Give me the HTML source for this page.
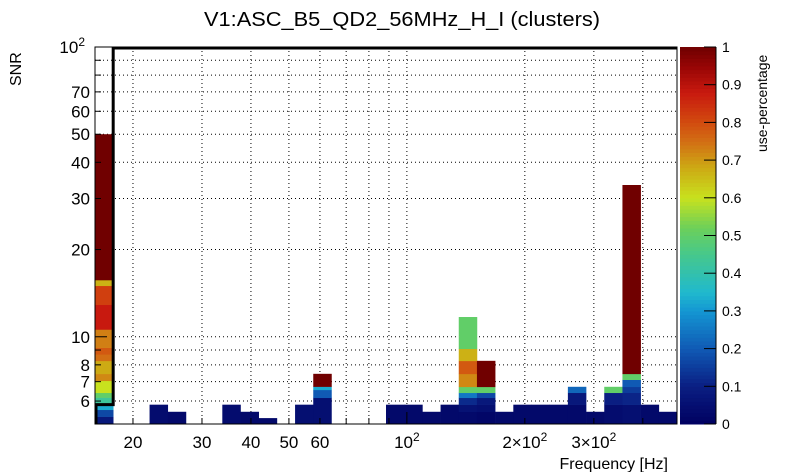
<!DOCTYPE html>
<html><head><meta charset="utf-8"><style>
html,body{margin:0;padding:0;background:#fff;}
svg{display:block;font-family:"Liberation Sans",Arial,sans-serif;}
</style></head><body>
<svg id="chart" width="805" height="472" viewBox="0 0 805 472" xmlns="http://www.w3.org/2000/svg">
<rect width="805" height="472" fill="#fff"/>
<text x="402" y="26" font-size="20" text-anchor="middle" textLength="396" lengthAdjust="spacingAndGlyphs">V1:ASC_B5_QD2_56MHz_H_I (clusters)</text>
<text transform="translate(21,86) rotate(-90)" font-size="16">SNR</text>
<text x="668" y="469" font-size="16" text-anchor="end">Frequency [Hz]</text>
<text transform="translate(767,152) rotate(-90)" font-size="14">use-percentage</text>
<g id="grid"></g>
<g id="cells"></g>
<g id="axes"></g>
<g id="colorbar"></g>
</svg>
<script>
// ---- data ----
const xBinCount = 32;
const xMin = 16.0, xMax = 489;
const yMin = 5, yMax = 100;
// each column: bin index, SNR segment tops, use-percentage values
const colBins = [0,3,4,7,8,9,11,12,16,17,18,19,20,21,22,23,24,25,26,27,28,29,30,31];
const colTops = [
 [5.30,5.60,5.87,6.17,6.41,7.05,7.45,8.26,8.7,9.17,10.6,12.9,15.0,15.7,50],
 [5.83],[5.51],[5.83],[5.51],[5.24],[5.83],
 [6.16,6.56,6.73,7.45],
 [5.83],[5.83],[5.51],[5.83],
 [5.51,5.83,6.16,6.41,6.72,7.45,8.26,9.09,11.7],
 [5.51,5.83,6.16,6.41,6.72,8.26],
 [5.51],[5.83],[5.83],[5.83],
 [5.83,6.41,6.72],
 [5.51],
 [5.83,6.41,6.72],
 [5.83,6.41,6.72,7.11,7.45,33.4],
 [5.83],[5.51]
];
const colVals = [
 [0.08,0.17,0.33,0.43,0.5,0.6,0.72,0.68,0.75,0.78,0.73,0.88,0.82,0.67,1.0],
 [0.04],[0.03],[0.04],[0.03],[0.03],[0.05],
 [0.05,0.2,0.33,1.0],
 [0.03],[0.03],[0.03],[0.03],
 [0.03,0.06,0.12,0.25,0.5,0.72,0.78,0.67,0.5],
 [0.02,0.05,0.08,0.17,0.5,1.0],
 [0.03],[0.03],[0.03],[0.03],
 [0.03,0.08,0.22],
 [0.03],
 [0.04,0.1,0.5],
 [0.05,0.11,0.15,0.2,0.5,1.0],
 [0.03],[0.03]
];
// black step line: SNR level per x bin (first bin, then the rest)
const stepLevels = [5.83, 100];
const yTickVals = [6,7,8,9,10,20,30,40,50,60,70,80,90,100];
const yTickLabels = ["6","7","8","","10","20","30","40","50","60","70","","",""];
const xTickVals = [20,30,40,50,60,70,80,90,100,200,300,400];
const xTickLabels = ["20","30","40","50","60","","","","","","",""];
const zTicks = [0,0.1,0.2,0.3,0.4,0.5,0.6,0.7,0.8,0.9,1];

// ---- geometry ----
const L=95,R=677,T=47,B=424;
const NS="http://www.w3.org/2000/svg";
const xs=f=>L+(R-L)*(Math.log10(f)-Math.log10(xMin))/(Math.log10(xMax)-Math.log10(xMin));
const ys=s=>B-(B-T)*(Math.log10(s)-Math.log10(yMin))/(Math.log10(yMax)-Math.log10(yMin));
const bw=(R-L)/xBinCount;
const stops=[[0,[0,0,96]],[0.1,[10,30,130]],[0.2,[16,90,180]],[0.3,[20,150,210]],[0.35,[32,185,205]],[0.45,[70,200,140]],[0.52,[108,208,90]],[0.6,[200,225,30]],[0.68,[205,170,20]],[0.75,[210,110,20]],[0.8,[210,75,15]],[0.88,[200,25,15]],[0.95,[150,5,5]],[1,[112,0,0]]];
function col(v){for(let i=1;i<stops.length;i++){if(v<=stops[i][0]){const a=stops[i-1],b=stops[i],t=(v-a[0])/(b[0]-a[0]);return 'rgb('+a[1].map((c,k)=>Math.round(c+(b[1][k]-c)*t)).join(',')+')';}}return 'rgb(112,0,0)';}
function mk(tag,attrs,parent){const e=document.createElementNS(NS,tag);for(const k in attrs)e.setAttribute(k,attrs[k]);parent.appendChild(e);return e;}
const grid=document.getElementById('grid'),cells=document.getElementById('cells'),axes=document.getElementById('axes'),cb=document.getElementById('colorbar');

yTickVals.forEach((v,i)=>{const y=ys(v);
 const g=mk('line',{x1:L,x2:R,y1:y,y2:y,stroke:'#000','stroke-width':1,'stroke-dasharray':'1 3'},grid);
 
 
 const t=mk('line',{x1:L,x2:L+(v===10||v===100?12:6),y1:y,y2:y,stroke:'#000'},axes);
 
 
 if(yTickLabels[i]){const tx=mk('text',{x:L-5,y:y+6,'font-size':17,'text-anchor':'end'},axes);tx.textContent=yTickLabels[i];
  
  }
});
const ylab=mk('text',{x:L-10,y:T+6,'font-size':17,'text-anchor':'end'},axes);ylab.innerHTML='10<tspan dy="-7" font-size="12">2</tspan>';



xTickVals.forEach((v,i)=>{const x=xs(v);
 const g=mk('line',{x1:x,x2:x,y1:T,y2:B,stroke:'#000','stroke-width':1,'stroke-dasharray':'1 3'},grid);
 
 
 const t=mk('line',{x1:x,x2:x,y1:B,y2:B-(v===100?12:6),stroke:'#000'},axes);
 
 
 if(xTickLabels[i]){const tx=mk('text',{x:x,y:448,'font-size':17,'text-anchor':'middle'},axes);tx.textContent=xTickLabels[i];
  
  }
});
[[100,'10<tspan dy="-7" font-size="12">2</tspan>'],[200,'2×10<tspan dy="-7" font-size="12">2</tspan>'],[300,'3×10<tspan dy="-7" font-size="12">2</tspan>']].forEach(p=>{
 const tx=mk('text',{x:xs(p[0]),y:448,'font-size':17,'text-anchor':'middle'},axes);tx.innerHTML=p[1];
 
 });

colBins.forEach((bin,ci)=>{let prev=yMin;const x0=L+bin*bw;
 colTops[ci].forEach((top,k)=>{const y1=ys(top),y0=ys(prev);
  const r=mk('rect',{x:x0,y:y1,width:bw+0.3,height:y0-y1+0.3,fill:col(colVals[ci][k])},cells);
  
  
  prev=top;});
});

const sy0=ys(stepLevels[0]),sy1=ys(stepLevels[1]);
const step=mk('path',{d:`M${L+1},${B} L${L+1},${sy0} L${L+bw},${sy0} L${L+bw},${sy1+1} L${R},${sy1+1}`,fill:'none',stroke:'#000','stroke-width':3},axes);


const fr=mk('rect',{x:L,y:T,width:R-L,height:B-T,fill:'none',stroke:'#000','stroke-width':1},axes);



// colorbar
const cL=680,cR=716,N=100;
for(let i=0;i<N;i++){const v=(i+0.5)/N,y=B-(i+1)*(B-T)/N;
 const r=mk('rect',{x:cL,y:y,width:cR-cL,height:(B-T)/N+0.5,fill:col(v)},cb);
 
 }
zTicks.forEach(v=>{const y=B-v*(B-T);
 const t=mk('line',{x1:cR-12,x2:cR,y1:y,y2:y,stroke:'#000'},cb);
 
 
 const tx=mk('text',{x:cR+6,y:y+5,'font-size':14},cb);tx.textContent=String(v);
 
 });
const cbf=mk('line',{x1:cR,x2:cR,y1:T,y2:B,stroke:'#000'},cb);


</script>
</body></html>
